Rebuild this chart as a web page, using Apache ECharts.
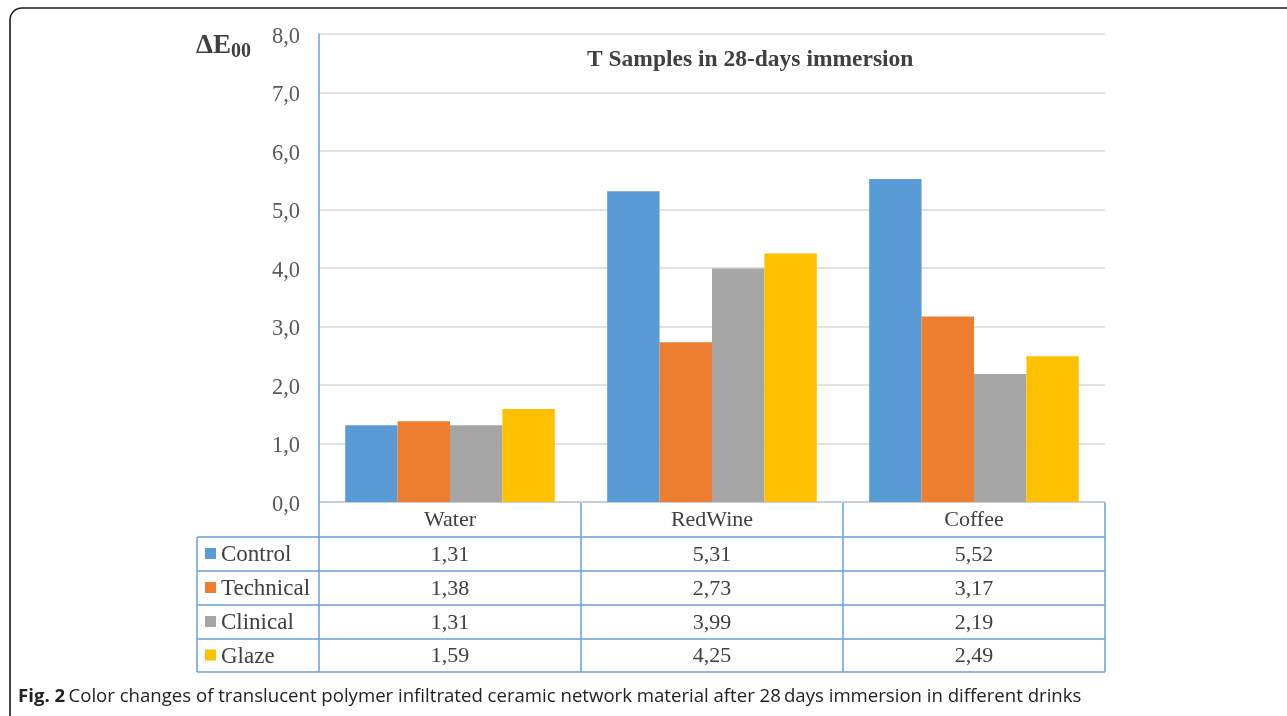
<!DOCTYPE html>
<html><head><meta charset="utf-8">
<script src="https://cdn.jsdelivr.net/npm/echarts@6/dist/echarts.min.js"></script>
<style>html,body{margin:0;padding:0;background:#fff}#c{width:1287px;height:716px}</style>
</head><body><div id="c"></div>
<script>
const categories = ['Water', 'RedWine', 'Coffee'];
const seriesNames = ['Control', 'Technical', 'Clinical', 'Glaze'];
const control = [1.31, 5.31, 5.52];
const technical = [1.38, 2.73, 3.17];
const clinical = [1.31, 3.99, 2.19];
const glaze = [1.59, 4.25, 2.49];
const yTicks = ['0,0','1,0','2,0','3,0','4,0','5,0','6,0','7,0','8,0'];
const colors = ['#5b9bd5', '#ed7d31', '#a5a5a5', '#ffc000'];
const allValues = [control, technical, clinical, glaze];

const serif = '"Liberation Serif", "Times New Roman", serif';
const txt = '#404040';
const tableColor = '#6a9fdc';
const L = { tableLeft: 197, plotLeft: 319, plotRight: 1105, top: 34, axisY: 502, rows: [502, 537, 571, 605, 639, 672] };
const bandW = (L.plotRight - L.plotLeft) / categories.length;
const fmt = v => v.toFixed(2).replace('.', ',');

const g = [];
g.push({ type: 'rect', shape: { x: 10, y: 8, width: 1300, height: 730, r: 12 }, style: { fill: 'none', stroke: '#1a1a1a', lineWidth: 1.6 }, silent: true });
L.rows.forEach((y, i) => {
  g.push({ type: 'line', shape: { x1: i === 0 ? L.plotLeft : L.tableLeft, y1: y, x2: L.plotRight, y2: y }, style: { stroke: tableColor, lineWidth: 1.5 } });
});
g.push({ type: 'line', shape: { x1: L.tableLeft, y1: L.rows[1], x2: L.tableLeft, y2: L.rows[5] }, style: { stroke: tableColor, lineWidth: 1.5 } });
for (let k = 0; k <= categories.length; k++) {
  const x = L.plotLeft + k * bandW;
  g.push({ type: 'line', shape: { x1: x, y1: L.rows[0], x2: x, y2: L.rows[5] }, style: { stroke: tableColor, lineWidth: 1.5 } });
}
categories.forEach((c, k) => {
  g.push({ type: 'text', x: L.plotLeft + (k + 0.5) * bandW, y: (L.rows[0] + L.rows[1]) / 2 + 1, style: { text: c, font: '22px ' + serif, fill: txt, align: 'center', verticalAlign: 'middle' } });
});
seriesNames.forEach((s, i) => {
  const yc = (L.rows[i + 1] + L.rows[i + 2]) / 2 + 1;
  g.push({ type: 'rect', shape: { x: 205, y: yc - 7, width: 11, height: 11 }, style: { fill: colors[i] } });
  g.push({ type: 'text', x: 221, y: yc, style: { text: s, font: '23px ' + serif, fill: txt, align: 'left', verticalAlign: 'middle' } });
  allValues[i].forEach((v, k) => {
    g.push({ type: 'text', x: L.plotLeft + (k + 0.5) * bandW, y: yc, style: { text: fmt(v), font: '22px ' + serif, fill: txt, align: 'center', verticalAlign: 'middle' } });
  });
});
g.push({ type: 'text', x: 196, y: 46, style: { text: '{a|ΔE}{b|00}', align: 'left', verticalAlign: 'middle', rich: { a: { font: 'bold 27px ' + serif, fill: txt }, b: { font: 'bold 20px ' + serif, fill: txt, verticalAlign: 'bottom', padding: [11, 0, 0, 0] } } } });
g.push({ type: 'text', x: 587, y: 60, style: { text: 'T Samples in 28-days immersion', font: 'bold 23.5px ' + serif, fill: txt, align: 'left', verticalAlign: 'middle' } });
g.push({ type: 'text', x: 18, y: 697, style: { text: '{b|Fig. 2} {r|Color changes of translucent polymer infiltrated ceramic network material after 28\u2009days immersion in different drinks}', verticalAlign: 'middle', rich: { b: { font: 'bold 18.6px "Open Sans", sans-serif', fill: '#222' }, r: { font: '18.6px "Open Sans", sans-serif', fill: '#222' } } } });

const chart = echarts.init(document.getElementById('c'));
chart.setOption({
  animation: false,
  backgroundColor: '#fff',
  grid: { left: L.plotLeft, right: 1287 - L.plotRight, top: L.top, bottom: 716 - L.axisY },
  xAxis: { type: 'category', data: categories, axisLine: { show: false }, axisTick: { show: false }, axisLabel: { show: false } },
  yAxis: {
    type: 'value', min: 0, max: 8, interval: 1,
    axisLine: { show: true, lineStyle: { color: tableColor, width: 1.5 } },
    axisTick: { show: false },
    splitLine: { lineStyle: { color: '#d9d9d9', width: 1.5 } },
    axisLabel: {
      margin: 19, formatter: v => '{t|' + yTicks[Math.round(v)] + '}',
      rich: { t: { fontFamily: serif, fontSize: 22.5, color: '#595959', padding: [6, 0, 0, 0] } }
    }
  },
  series: seriesNames.map((s, i) => ({
    name: s, type: 'bar', data: allValues[i], barGap: '0%', barCategoryGap: '20%',
    itemStyle: { color: colors[i] }
  })),
  graphic: { elements: g }
});
</script></body></html>
